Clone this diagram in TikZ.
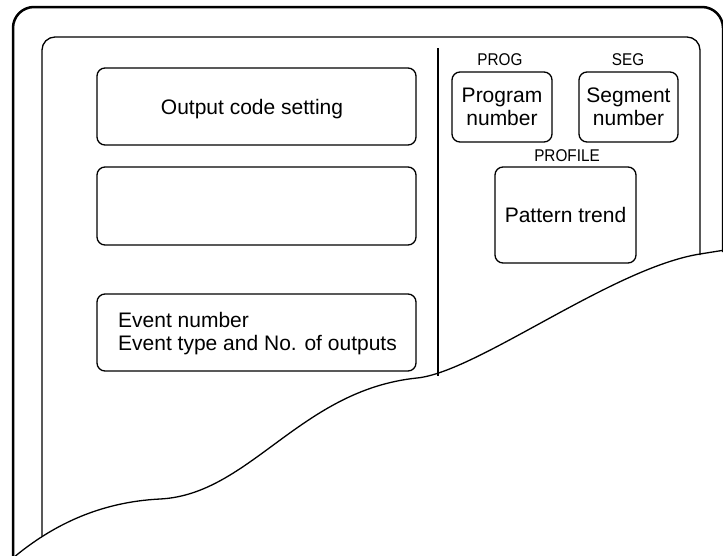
\documentclass[tikz,border=0pt]{standalone}
\usepackage{fontspec}
\setmainfont{Liberation Sans}
\newfontfamily\condfont[FakeStretch=0.9]{Liberation Sans}
\begin{document}
\begin{tikzpicture}[x=1pt,y=-1pt,
  box/.style={draw,line width=1.3pt,rounded corners=8pt,inner sep=0pt},
  big/.style={font=\fontsize{21}{23}\selectfont,align=center},
  lbl/.style={font=\condfont\fontsize{17}{19}\selectfont,inner sep=0pt}]
\useasboundingbox (0,0) rectangle (723,555);
\clip (0,0) rectangle (723,555);
% outer frame
\draw[line width=2.5pt,rounded corners=21pt] (13,570) -- (13,7) -- (723,7) -- (723,252);
% inner frame
\draw[line width=1.3pt,rounded corners=13pt] (42,536) -- (42,37) -- (700,37) -- (700,255);
% divider
\draw[line width=2.2pt] (438,48) -- (438,376);
% torn curve
\draw[line width=1.3pt] (6,564) .. controls (50,525) and (100,502) .. (160,499)
  .. controls (250,494.5) and (300,390) .. (417,378)
  .. controls (477,372) and (612,268) .. (700,254)
  -- (730,249.2);
% left boxes
\node[box,minimum width=319pt,minimum height=77pt] (out) at (256.5,106.5) {};
\node[big,inner sep=0pt] (outtxt) at (252,109) {Output code setting};
\node[box,minimum width=319pt,minimum height=78pt] (blank) at (256.5,206) {};
\node[box,minimum width=319pt,minimum height=77pt] (event) at (256.5,332.5) {};
\node[big,align=left,anchor=west,inner sep=0pt] (eventtxt) at (118,334) {Event number\\Event type and No. of outputs};
% right boxes
\node[box,minimum width=100pt,minimum height=70pt,big] (prog) at (502,107) {Program\\number};
\node[box,minimum width=99pt,minimum height=70pt,big] (seg) at (628.5,107) {Segment\\number};
\node[box,minimum width=141pt,minimum height=96pt,big] (pat) at (565.5,215) {Pattern trend};
\node[lbl] (progl) at (500,60) {PROG};
\node[lbl] (segl) at (628,60) {SEG};
\node[lbl] (profl) at (567,156) {PROFILE};
\end{tikzpicture}
\end{document}
